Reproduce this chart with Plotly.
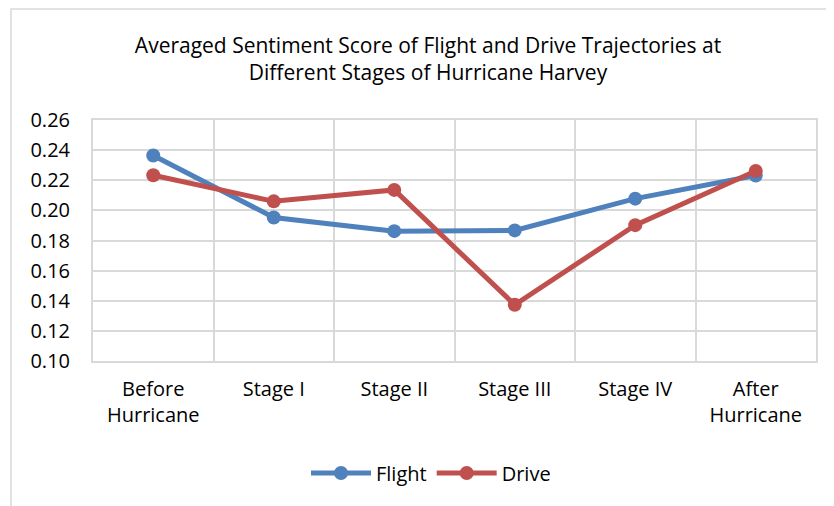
import plotly.graph_objects as go

categories = ["Before<br>Hurricane", "Stage I", "Stage II", "Stage III", "Stage IV", "After<br>Hurricane"]
flight = [0.2364, 0.1953, 0.1862, 0.1867, 0.2078, 0.2231]
drive = [0.2233, 0.2060, 0.2136, 0.1373, 0.1902, 0.2262]
y_ticks = [0.10, 0.12, 0.14, 0.16, 0.18, 0.20, 0.22, 0.24, 0.26]

FONT = "Open Sans, sans-serif"
FS = 20
BLUE = "#4F81BD"
RED = "#C0504D"
GRID = "#D9D9D9"

fig = go.Figure()
fig.add_trace(go.Scatter(x=categories, y=flight, name="Flight", mode="lines+markers",
                         line=dict(color=BLUE, width=5), marker=dict(size=14, color=BLUE)))
fig.add_trace(go.Scatter(x=categories, y=drive, name="Drive", mode="lines+markers",
                         line=dict(color=RED, width=5), marker=dict(size=14, color=RED)))

# page has an 8px body offset; figure coords = page coords - 8
OFF = 8
W, H = 834 - OFF, 506 - OFF
L, T = 93 - OFF, 120 - OFF
R = W - (816 - OFF)
B = H - (361 - OFF)
pw, ph = W - L - R, H - T - B

fig.update_layout(
    width=W, height=H,
    margin=dict(l=L, r=R, t=T, b=B),
    paper_bgcolor="white", plot_bgcolor="white",
    font=dict(family=FONT, size=FS, color="#000000"),
    title=dict(text="Averaged Sentiment Score of Flight and Drive Trajectories at<br>Different Stages of Hurricane Harvey",
               x=(428 - OFF) / W, xanchor="center", xref="container",
               y=1 - (53 - OFF) / H, yanchor="middle",
               font=dict(family=FONT, size=21, color="#000000")),
    xaxis=dict(type="category", tickson="boundaries", showgrid=True, gridcolor=GRID, gridwidth=2,
               ticks="", showline=True, linecolor=GRID, linewidth=2, mirror=True,
               ticklabelstandoff=9,
               tickfont=dict(family=FONT, size=FS), range=[-0.5, 5.5]),
    yaxis=dict(range=[0.10, 0.26], tickvals=y_ticks, ticktext=[f"{v:.2f}" for v in y_ticks],
               showgrid=True, gridcolor=GRID, gridwidth=2, zeroline=False,
               showline=True, linecolor=GRID, linewidth=2, mirror=True, ticks="",
               ticklabelstandoff=17,
               tickfont=dict(family=FONT, size=FS)),
    legend=dict(orientation="h", x=(431 - 93) / pw, xanchor="center", y=-(473 - 361) / ph,
                yanchor="middle", font=dict(family=FONT, size=FS), itemwidth=60),
    showlegend=True,
)

# outer chart border
fig.add_shape(type="rect", xref="paper", yref="paper",
              x0=(11 - OFF - L) / pw, x1=(W + 20 - L) / pw,
              y0=-(H + 20 - T - ph) / ph, y1=1 + (T - 1) / ph,
              line=dict(color=GRID, width=1.5), fillcolor="rgba(0,0,0,0)", layer="below")

fig.write_html("out.html")
